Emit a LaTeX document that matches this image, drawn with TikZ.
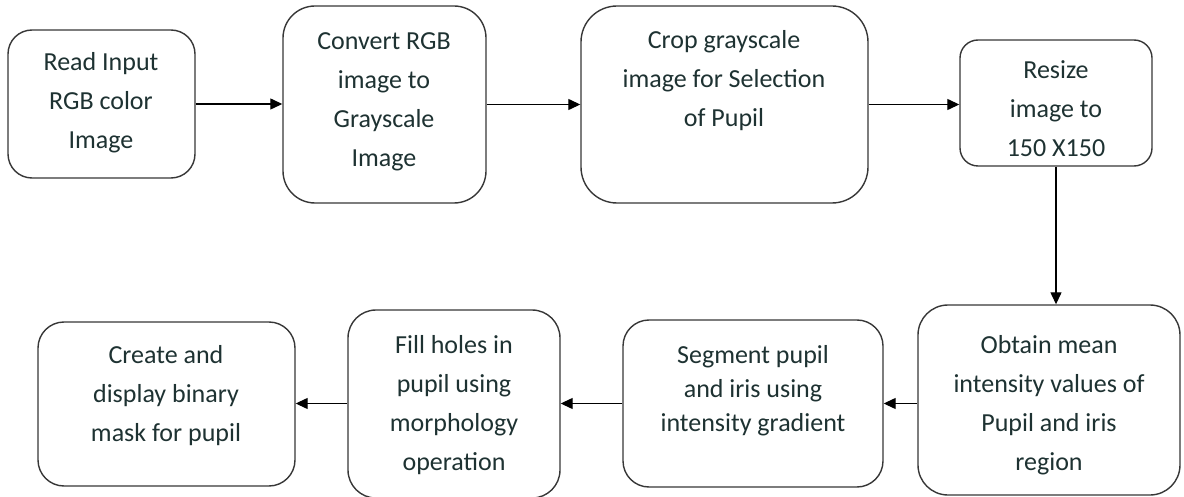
\documentclass[tikz,border=0pt]{standalone}
\usepackage{fontspec}
\setmainfont{Carlito}
\usetikzlibrary{arrows.meta}
\definecolor{txt}{RGB}{30,50,50}
\definecolor{edge}{RGB}{55,55,55}
\tikzset{
  x=1pt, y=-1pt,
  stepbox/.style={draw=edge, line width=1.4pt, rounded corners=26pt, fill=white, inner sep=0pt},
  steptext/.style={text=txt, align=center, font=\fontsize{26}{39}\selectfont, inner sep=0pt},
  flow/.style={draw=black, line width=1.3pt, -{Triangle[length=12pt,width=11pt]}}
}
\newcommand{\bx}[6]{\node[stepbox, minimum width=#3pt, minimum height=#4pt, #6] (#5) at (#1,#2) {};}
\begin{document}
\begin{tikzpicture}
\useasboundingbox (0,0) rectangle (1184,497);
% top row boxes
\bx{101.5}{104}{187}{148}{b1}{rounded corners=24pt}
\bx{384.5}{104.5}{203}{197}{b2}{rounded corners=32pt}
\bx{724.5}{104.5}{287}{197}{b3}{rounded corners=36pt}
\bx{1056}{103}{192}{126}{b4}{rounded corners=18pt}
% bottom row boxes
\bx{1049}{400}{262}{190}{b5}{rounded corners=30pt}
\bx{753}{403.5}{260}{167}{b6}{rounded corners=26pt}
\bx{454}{404}{212}{188}{b7}{rounded corners=28pt}
\bx{166.5}{404}{257}{164}{b8}{rounded corners=26pt}
% texts
\node[steptext] (t1) at (101,103) {Read Input\\RGB color\\Image};
\node[steptext] (t2) at (384,102) {Convert RGB\\image to\\Grayscale\\Image};
\node[steptext] (t3) at (724,81) {Crop grayscale\\image for Selection\\of Pupil};
\node[steptext] (t4) at (1056,109) {Resize\\image to\\150 X150};
\node[steptext] (t5) at (1049,405) {Obtain mean\\intensity values of\\Pupil and iris\\region};
\node[steptext, font=\fontsize{26}{34}\selectfont] (t6) at (753,391) {Segment pupil\\and iris using\\intensity gradient};
\node[steptext] (t7) at (454,405) {Fill holes in\\pupil using\\morphology\\operation};
\node[steptext] (t8) at (166,396) {Create and\\display binary\\mask for pupil};
% connectors
\draw[flow] (b1.east) -- (b2.west |- b1.east);
\draw[flow] (b2.east) -- (b3.west |- b2.east);
\draw[flow] (b3.east) -- (b4.west |- b3.east);
\draw[flow] (b4.south) -- (b4.south |- b5.north);
\draw[flow] (b5.west |- b6.east) -- (b6.east);
\draw[flow] (b6.west) -- (b7.east |- b6.west);
\draw[flow] (b7.west |- b6.west) -- (b8.east |- b6.west);
\end{tikzpicture}
\end{document}
